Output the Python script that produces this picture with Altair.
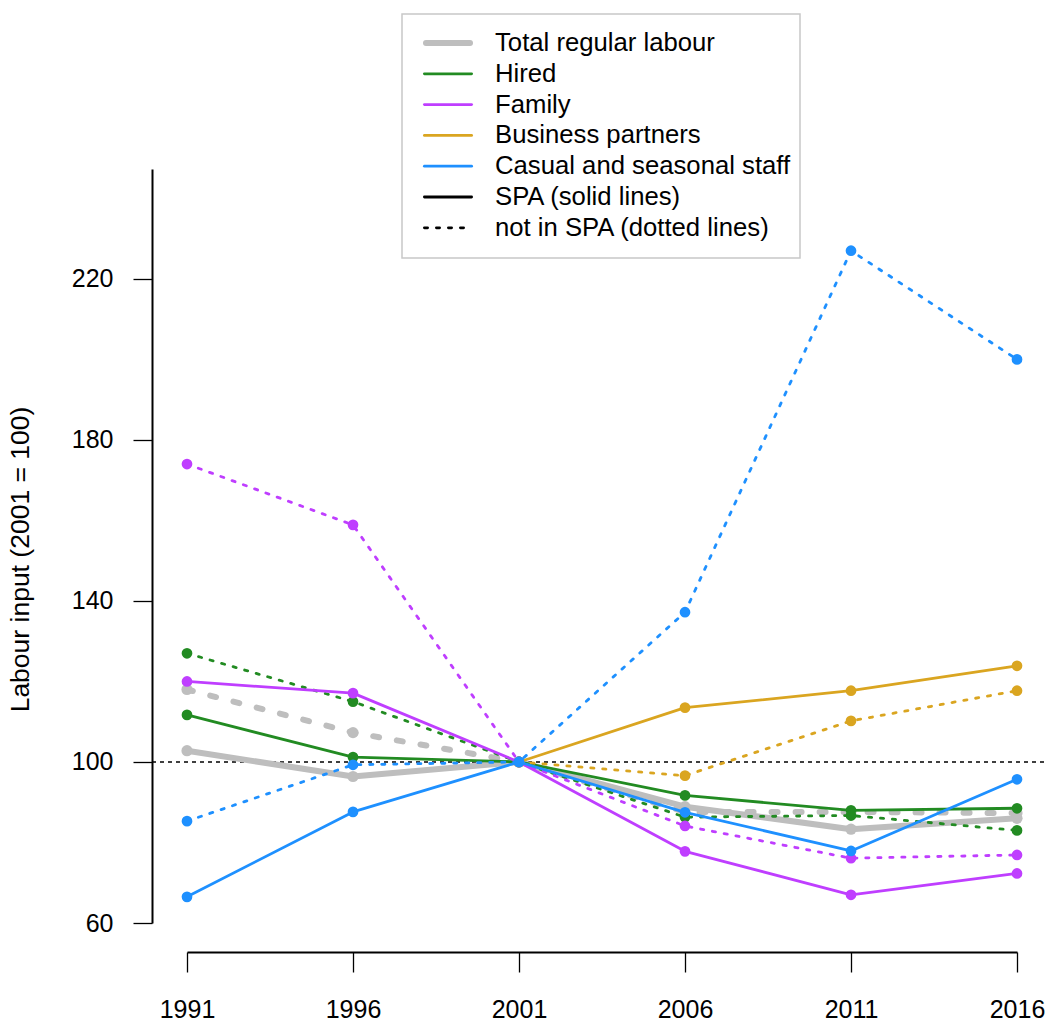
import altair as alt
import pandas as pd

# Census years and labour input indices (2001 = 100)
years = [1991, 1996, 2001, 2006, 2011, 2016]

total_spa = [102.8, 96.4, 100.0, 88.9, 83.3, 86.0]
total_non = [118.0, 107.3, 100.0, 87.6, 87.6, 87.3]
hired_spa = [111.7, 101.2, 100.0, 91.7, 88.0, 88.5]
hired_non = [127.0, 115.0, 100.0, 86.3, 86.7, 83.0]
family_spa = [120.0, 117.1, 100.0, 77.8, 67.0, 72.3]
family_non = [174.0, 158.9, 100.0, 84.1, 76.1, 76.9]
partners_spa = [None, None, 100.0, 113.5, 117.7, 123.9]
partners_non = [None, None, 100.0, 96.6, 110.2, 117.7]
casual_spa = [66.5, 87.6, 100.0, 87.5, 77.9, 95.7]
casual_non = [85.3, 99.3, 100.0, 137.2, 227.0, 200.0]

y_ticks = [60, 100, 140, 180, 220]
baseline_value = 100

series_labels = ["Total regular labour", "Hired", "Family",
                 "Business partners", "Casual and seasonal staff"]
spa_labels = ["SPA (solid lines)", "not in SPA (dotted lines)"]

GREY = "#BEBEBE"
COLOURS = {
    "Total regular labour": GREY,
    "Hired": "#228B22",
    "Family": "#BF3EFF",
    "Business partners": "#DAA520",
    "Casual and seasonal staff": "#1E90FF",
}
SERIES_VALUES = {
    "Total regular labour": (total_spa, total_non),
    "Hired": (hired_spa, hired_non),
    "Family": (family_spa, family_non),
    "Business partners": (partners_spa, partners_non),
    "Casual and seasonal staff": (casual_spa, casual_non),
}

FONT = "Liberation Sans"
TICK_FS = 25
LEGEND_FS = 25.7
TITLE_FS = 26.5
W, H = 830, 754
LW = 2.8

x_enc = alt.X(
    "year:Q",
    scale=alt.Scale(domain=[1991, 2016], nice=False, zero=False),
    axis=alt.Axis(values=years, format="d", title=None, offset=29,
                  tickSize=20, labelPadding=25, labelFlush=False,
                  labelOverlap=False),
)
y_enc = alt.Y(
    "value:Q",
    scale=alt.Scale(domain=[60, 247.3], nice=False, zero=False),
    axis=alt.Axis(values=y_ticks, title="Labour input (2001 = 100)",
                  offset=35, tickSize=19, labelPadding=20, labelFlush=False,
                  labelOverlap=False, titlePadding=37, titleY=390),
)


def frame(vals):
    rows = [{"year": y, "value": v} for y, v in zip(years, vals) if v is not None]
    return pd.DataFrame(rows)


layers = []

# dotted reference line at the base year level
ref = alt.Chart(pd.DataFrame({"value": [baseline_value]})).mark_rule(
    color="black", strokeWidth=1.6, strokeDash=[4, 4]
).encode(y=y_enc, x=alt.value(-35), x2=alt.value(W + 30))
layers.append(ref)

for name in series_labels:
    spa_vals, non_vals = SERIES_VALUES[name]
    col = COLOURS[name]
    thick = name == "Total regular labour"
    lw = 6 if thick else LW
    dash = [6, 18] if thick else [3.2, 8.8]
    psize = 125 if thick else 115
    for vals, dotted in ((spa_vals, False), (non_vals, True)):
        df = frame(vals)
        base = alt.Chart(df)
        line_kw = dict(color=col, strokeWidth=lw, strokeCap="round",
                       strokeJoin="round")
        if dotted:
            line_kw["strokeDash"] = dash
        layers.append(base.mark_line(**line_kw).encode(x=x_enc, y=y_enc))
        layers.append(base.mark_circle(color=col, size=psize, opacity=1)
                      .encode(x=x_enc, y=y_enc))

# legend box
one = pd.DataFrame({"k": [0]})
box_left, box_right, box_top, box_bottom = 215, 613, -155, 89
layers.append(
    alt.Chart(one).mark_rect(fill="white", stroke="#C8C8C8", strokeWidth=1.5)
    .encode(x=alt.value(box_left), x2=alt.value(box_right),
            y=alt.value(box_top), y2=alt.value(box_bottom))
)

legend_entries = [
    (series_labels[0], GREY, 6, None),
    (series_labels[1], COLOURS["Hired"], LW, None),
    (series_labels[2], COLOURS["Family"], LW, None),
    (series_labels[3], COLOURS["Business partners"], LW, None),
    (series_labels[4], COLOURS["Casual and seasonal staff"], LW, None),
    (spa_labels[0], "black", LW, None),
    (spa_labels[1], "black", LW, [3.2, 8.8]),
]
row0, row_step = -126, 30.8
for i, (label, col, lw, dash) in enumerate(legend_entries):
    ry = row0 + i * row_step
    kw = dict(color=col, strokeWidth=lw, strokeCap="round")
    if dash:
        kw["strokeDash"] = dash
    x0 = 236 + lw / 2
    x1 = 286 - lw / 2
    layers.append(
        alt.Chart(one).mark_rule(**kw)
        .encode(x=alt.value(x0), x2=alt.value(x1), y=alt.value(ry))
    )
    layers.append(
        alt.Chart(one).mark_text(text=label, align="left", baseline="middle",
                                 font=FONT, fontSize=LEGEND_FS, color="black")
        .encode(x=alt.value(308), y=alt.value(ry))
    )

chart = alt.layer(*layers).properties(
    width=W, height=H,
    autosize=alt.AutoSizeParams(type="none"),
    padding={"left": 187, "top": 169, "right": 30, "bottom": 100},
).configure_view(stroke=None).configure_axis(
    grid=False,
    domainColor="black", domainWidth=2,
    tickColor="black", tickWidth=1.3,
    labelFont=FONT, labelFontSize=TICK_FS, labelColor="black",
    titleFont=FONT, titleFontSize=TITLE_FS, titleColor="black",
    titleFontWeight="normal",
)

chart.save("out.html", embed_options={"renderer": "svg", "actions": False})
